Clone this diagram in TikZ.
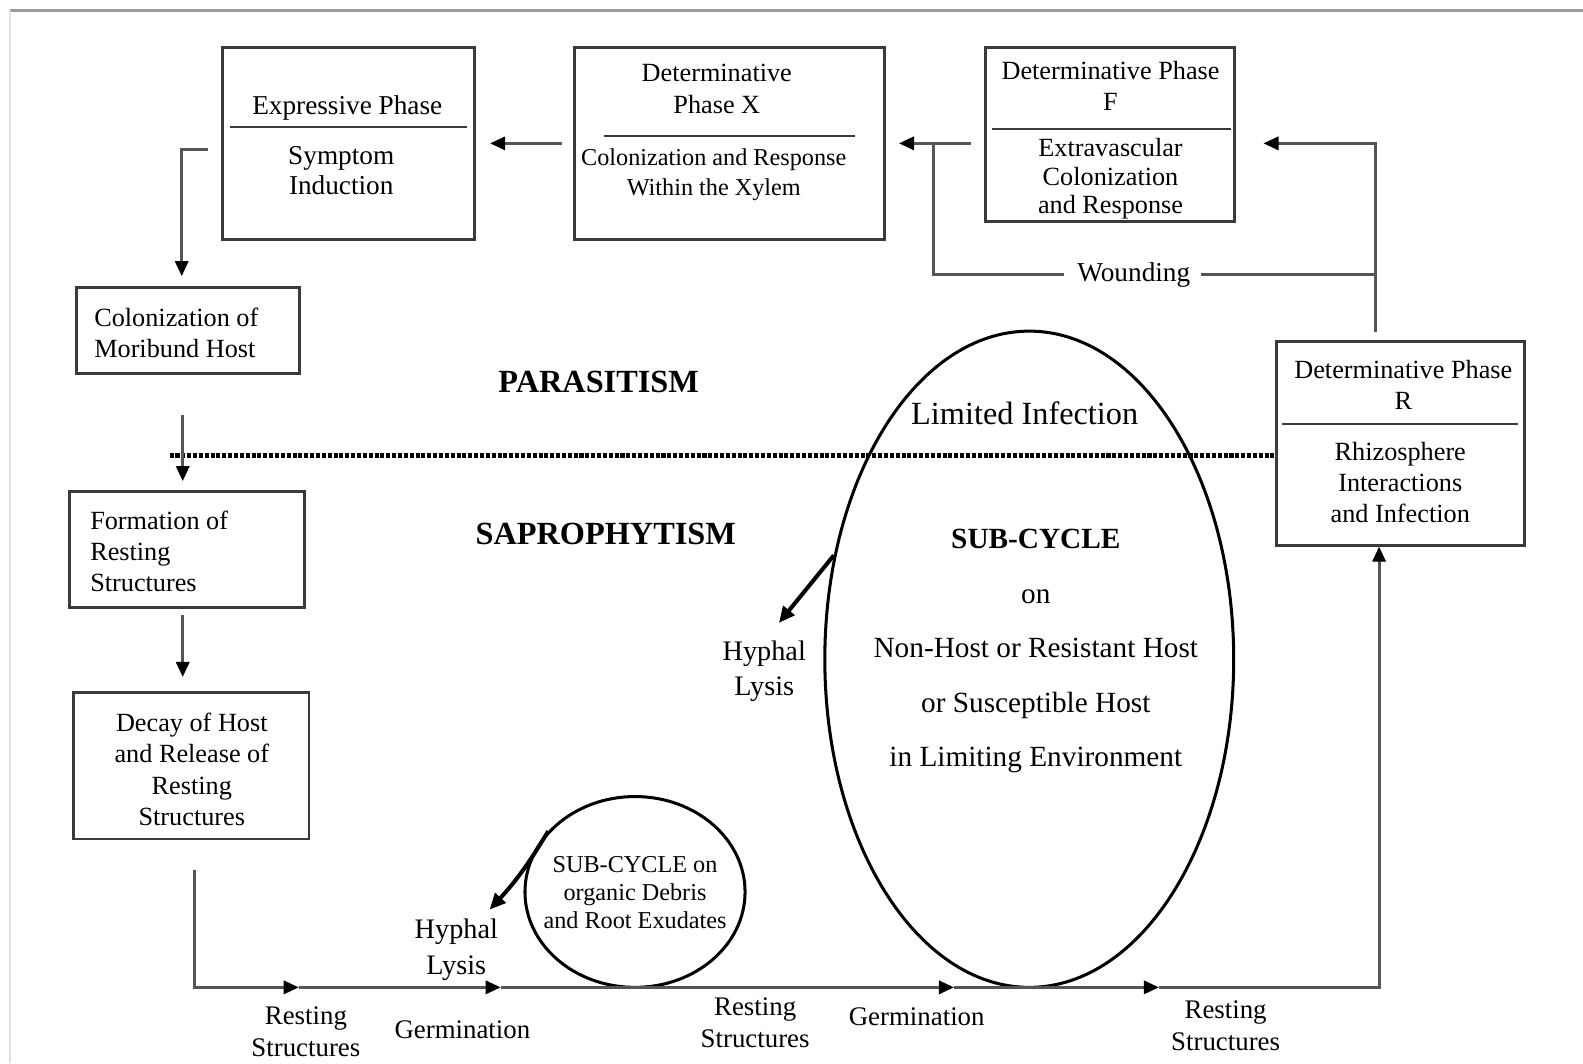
\documentclass[tikz,border=0pt]{standalone}
\usepackage{fontspec}
\setmainfont{Liberation Serif}
\usetikzlibrary{arrows.meta,shapes.geometric}
\definecolor{boxc}{HTML}{3A3A3A}
\definecolor{linec}{HTML}{555555}
\definecolor{framec}{HTML}{9A9A9A}
\begin{document}
\begin{tikzpicture}[x=0.5pt,y=-0.5pt,
  box/.style={draw=boxc, line width=1.4pt, inner sep=0pt},
  conn/.style={draw=linec, line width=1.5pt},
  arr/.style={-{Triangle[length=7.5pt,width=6.5pt,color=black]}},
  boldarr/.style={draw=black, line width=2pt, -{Triangle[length=8pt,width=7pt]}},
  divider/.style={draw=boxc, line width=1.2pt},
  txt/.style={inner sep=0pt, align=center, font=\fontsize{13}{15.5}\selectfont},
  btxt/.style={inner sep=0pt, align=center, font=\fontsize{16}{19}\selectfont\bfseries},
  oval/.style={draw=black, line width=1.5pt, ellipse, inner sep=0pt}
]
\useasboundingbox (0,0) rectangle (1568,1053);
% frame lines
\draw[framec, line width=1.5pt] (10,10) -- (1568,10);
\draw[black!12, line width=1pt] (10,10) -- (10,1053);

% boxes
\node[box, minimum width=125pt, minimum height=95pt] (E) at (345,142) {};
\node[box, minimum width=153.5pt, minimum height=95pt] (X) at (722.5,142) {};
\node[box, minimum width=123.5pt, minimum height=86pt] (F) at (1099.5,133) {};
\node[box, minimum width=110.5pt, minimum height=42.5pt] (M) at (186.5,327.5) {};
\node[box, minimum width=116.5pt, minimum height=57.5pt] (Fo) at (185.5,544.5) {};
\node[box, minimum width=116.5pt, minimum height=72.5pt] (D) at (189.5,758.5) {};
\node[box, minimum width=123pt, minimum height=101pt] (R) at (1387,439) {};

% dividers
\draw[divider] (228,126) -- (463,126);
\draw[divider] (598,135) -- (847,135);
\draw[divider] (983,128) -- (1219,128);
\draw[divider] (1270,420) -- (1504,420);

% box texts
\node[txt, font=\fontsize{13.5}{15.5}\selectfont] (e1) at (344,107) {Expressive Phase};
\node[txt, font=\fontsize{13.5}{15}\selectfont] (e2) at (338,169) {Symptom\\Induction};
\node[txt] (x1) at (710,88) {Determinative\\Phase X};
\node[txt, font=\fontsize{12}{14.5}\selectfont] (x2) at (707,173) {Colonization and Response\\Within the Xylem};
\node[txt] (f1) at (1100,85) {Determinative Phase\\F};
\node[txt, font=\fontsize{13}{14}\selectfont] (f2) at (1100,177) {Extravascular\\Colonization\\and Response};
\node[txt, align=left, anchor=west] (m1) at (93,330) {Colonization of\\Moribund Host};
\node[txt, align=left, anchor=west] (fo1) at (89,546) {Formation of\\Resting\\Structures};
\node[txt] (d1) at (190,762) {Decay of Host\\and Release of\\Resting\\Structures};
\node[txt] (r1) at (1390,381) {Determinative Phase\\R};
\node[txt] (r2) at (1387,478) {Rhizosphere\\Interactions\\and Infection};

% region labels
\node[btxt] (par) at (593,378) {PARASITISM};
\node[btxt] (sap) at (600,529) {SAPROPHYTISM};

% dotted boundary
\coordinate (dl) at (168,451);
\draw[black, line width=2.4pt, dash pattern=on 2pt off 0.9pt] (dl) -- (R.west |- dl);

% ellipses
\node[oval, minimum width=202.5pt, minimum height=325pt] (big) at (1019.5,653) {};
\node[oval, minimum width=109pt, minimum height=94.5pt] (small) at (629,883.5) {};

\node[txt, font=\fontsize{16}{19}\selectfont] (lim) at (1015,409) {Limited Infection};
\node[txt, font=\fontsize{14.5}{27}\selectfont] (sc) at (1026,645) {\textbf{SUB-CYCLE}\\on\\Non-Host or Resistant Host\\or Susceptible Host\\in Limiting Environment};
\node[txt, font=\fontsize{12}{14}\selectfont] (sc2) at (629,884) {SUB-CYCLE on\\organic Debris\\and Root Exudates};

% hyphal lysis
\node[txt, font=\fontsize{14}{17.5}\selectfont] (h1) at (757,665) {Hyphal\\Lysis};
\node[txt, font=\fontsize{14}{18}\selectfont] (h2) at (452,941) {Hyphal\\Lysis};
\draw[boldarr] (big.152) -- ([xshift=-124pt,yshift=18pt]big.center);
\draw[boldarr] (small.145) to[bend left=6] ([xshift=-72pt,yshift=-8.75pt]small.center);

% top connectors
\draw[conn, arr] ([xshift=-5.5pt]X.west) -- ([xshift=7pt]E.east);
\path (F.west |- X.west) coordinate (fw);
\path (F.east |- X.west) coordinate (fe);
\draw[conn, arr] ([xshift=-6.5pt]fw) -- ([xshift=6.5pt]X.east);
\coordinate (rtop) at ([xshift=-12.5pt,yshift=4pt]R.north);
\draw[conn, arr] (rtop) |- ([xshift=13.5pt]fe);

% wounding
\node[txt, font=\fontsize{13.5}{15}\selectfont, inner xsep=5pt] (W) at (1123,272) {Wounding};
\coordinate (wr) at (rtop |- W.east);
\coordinate (wl) at (925,272);
\draw[conn] (wr) -- (W.east);
\draw[conn] ([xshift=-1.5pt]W.west) -- (wl) -- (wl |- fw);

% left column connectors
\draw[conn, arr] ([xshift=-6.5pt,yshift=-3pt]E.west) -| ([xshift=-3.25pt,yshift=5pt]M.north);
\draw[conn, arr] ([xshift=-2.75pt,yshift=-20pt]M.south) -- ([xshift=-2.25pt,yshift=4.5pt]Fo.north);
\draw[conn, arr] ([xshift=-2.25pt,yshift=-3pt]Fo.south) -- ([xshift=-4.25pt,yshift=7pt]D.north);

% bottom cycle
\coordinate (b0) at ([xshift=1.75pt,yshift=-14.5pt]D.south);
\coordinate (bc) at (193,978);
\coordinate (g1) at (296,978);
\coordinate (g2) at (496,978);
\coordinate (g3) at (945,978);
\coordinate (g4) at (1148,978);
\coordinate (br) at (1366,978);
\draw[conn, arr] (b0) -- (bc) -- (g1);
\draw[conn, arr] (g1) -- (g2);
\draw[conn, arr] (g2) -- (g3);
\draw[conn, arr] (g3) -- (g4);
\draw[conn, arr] (g4) -- (br) -- ([xshift=-10.5pt]R.south);

% bottom labels
\node[txt, font=\fontsize{13.3}{15.5}\selectfont] (rs1) at (303,1022) {Resting\\Structures};
\node[txt, font=\fontsize{13.3}{15.5}\selectfont] (ge1) at (458,1020) {Germination};
\node[txt, font=\fontsize{13.3}{15.5}\selectfont] (rs2) at (748,1013) {Resting\\Structures};
\node[txt, font=\fontsize{13.3}{15.5}\selectfont] (ge2) at (908,1007) {Germination};
\node[txt, font=\fontsize{13.3}{15.5}\selectfont] (rs3) at (1214,1016) {Resting\\Structures};
\end{tikzpicture}
\end{document}
